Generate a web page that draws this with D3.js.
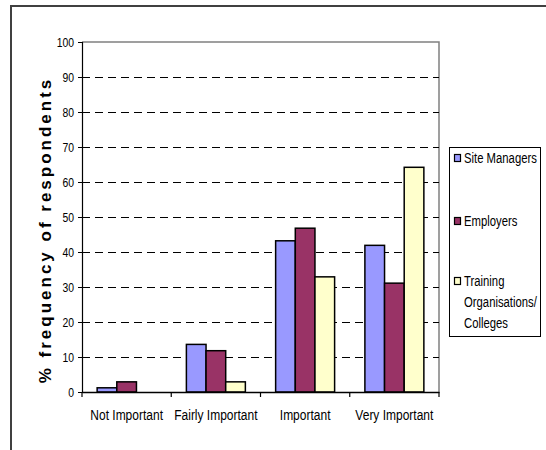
<!DOCTYPE html>
<html>
<head>
<meta charset="utf-8">
<script src="https://cdn.jsdelivr.net/npm/d3@7"></script>
<style>
  html, body { margin: 0; padding: 0; background: #fff; }
  svg { display: block; }
  .narrow { font-family: "Liberation Sans", Arial, sans-serif; }
</style>
</head>
<body>
<svg id="chart" width="546" height="450"></svg>
<script>
// Importance ratings by respondent group
const categories = ["Not Important", "Fairly Important", "Important", "Very Important"];
const seriesNames = ["Site Managers", "Employers", "Training Organisations/ Colleges"];
const siteManagers = [1.2, 13.6, 43.2, 41.9];
const employers = [2.9, 11.8, 46.8, 31.1];
const trainingOrgs = [0, 2.9, 32.9, 64.2];
const seriesColors = ["#9999FF", "#993366", "#FFFFCC"];
const yTicks = [0, 10, 20, 30, 40, 50, 60, 70, 80, 90, 100];
const yTitle = "% frequency of respondents";

const seriesValues = [siteManagers, employers, trainingOrgs];

const svg = d3.select("#chart");

// squeeze a text element horizontally (about its anchor x) to mimic a narrow typeface
function condense(sel, factor) {
  sel.each(function () {
    const t = d3.select(this);
    const x = +t.attr("x") || 0;
    t.attr("transform", `translate(${x},0) scale(${factor},1) translate(${-x},0)`);
  });
}

// outer chart frame (runs off the right and bottom edges)
svg.append("path")
  .attr("d", "M11,460 L11,6 L560,6")
  .attr("fill", "none")
  .attr("stroke", "#404040")
  .attr("stroke-width", 2);

const plot = { left: 82, right: 439, top: 42, bottom: 392 };

const x0 = d3.scaleBand()
  .domain(categories)
  .range([plot.left, plot.right])
  .padding(0);

const x1 = d3.scaleBand()
  .domain(d3.range(seriesNames.length))
  .range([0, x0.bandwidth()])
  .paddingInner(0)
  .paddingOuter(0.77);

const y = d3.scaleLinear()
  .domain([0, 100])
  .range([plot.bottom, plot.top]);

// plot area border (top and right)
svg.append("path")
  .attr("d", `M${plot.left},${plot.top} L${plot.right},${plot.top} L${plot.right},${plot.bottom}`)
  .attr("fill", "none")
  .attr("stroke", "#808080")
  .attr("stroke-width", 1.5);

// dashed gridlines
svg.append("g")
  .selectAll("line")
  .data(yTicks.filter(t => t > 0 && t < 100))
  .join("line")
  .attr("x1", plot.left)
  .attr("x2", plot.right)
  .attr("y1", d => Math.round(y(d)) + 0.5)
  .attr("y2", d => Math.round(y(d)) + 0.5)
  .attr("stroke", "#000")
  .attr("stroke-width", 1)
  .attr("stroke-dasharray", "8,5");

// bars
const groups = svg.append("g")
  .selectAll("g")
  .data(categories)
  .join("g")
  .attr("transform", d => `translate(${x0(d)},0)`);

groups.selectAll("rect")
  .data((c, ci) => seriesValues.map((vals, si) => ({ si, v: vals[ci] })).filter(d => d.v > 0))
  .join("rect")
  .attr("x", d => x1(d.si))
  .attr("width", x1.bandwidth())
  .attr("y", d => y(d.v))
  .attr("height", d => y(0) - y(d.v))
  .attr("fill", d => seriesColors[d.si])
  .attr("stroke", "#000")
  .attr("stroke-width", 1.5);

// y axis
const yAxis = svg.append("g")
  .attr("class", "narrow")
  .attr("transform", `translate(${plot.left},0)`)
  .call(d3.axisLeft(y).tickValues(yTicks).tickSize(4).tickPadding(4));
yAxis.select(".domain").attr("stroke", "#000").attr("stroke-width", 1.2);
yAxis.selectAll(".tick line").attr("stroke", "#000");
yAxis.selectAll(".tick text")
  .attr("font-size", 13)
  .attr("fill", "#000")
  .attr("font-family", null)
  .call(condense, 0.8);

// x axis
const xAxis = svg.append("g")
  .attr("class", "narrow")
  .attr("transform", `translate(0,${plot.bottom})`)
  .call(d3.axisBottom(x0).tickSize(0).tickPadding(17));
xAxis.select(".domain").attr("stroke", "#000").attr("stroke-width", 1.5);
xAxis.selectAll(".tick text")
  .attr("font-size", 15)
  .attr("fill", "#000")
  .attr("font-family", null)
  .call(condense, 0.8);

// x-axis ticks between categories
svg.append("g")
  .selectAll("line")
  .data(categories.map(c => x0(c)).concat([plot.right]))
  .join("line")
  .attr("x1", d => d)
  .attr("x2", d => d)
  .attr("y1", plot.bottom)
  .attr("y2", plot.bottom + 5)
  .attr("stroke", "#000")
  .attr("stroke-width", 1.2);

// y axis title
svg.append("text")
  .attr("transform", `translate(51,${(plot.top + plot.bottom) / 2 + 13}) rotate(-90)`)
  .attr("text-anchor", "middle")
  .attr("font-family", "Liberation Sans, Arial, sans-serif")
  .attr("font-weight", "bold")
  .attr("font-size", 17)
  .attr("letter-spacing", 3)
  .text(yTitle);

// legend
const legend = svg.append("g").attr("class", "narrow");
legend.append("rect")
  .attr("x", 449.5)
  .attr("y", 147.5)
  .attr("width", 91)
  .attr("height", 189)
  .attr("fill", "#fff")
  .attr("stroke", "#000")
  .attr("stroke-width", 1);

const legendLines = [["Site Managers"], ["Employers"], ["Training", "Organisations/", "Colleges"]];
const legendY = [158, 221, 281];

legendLines.forEach((lines, i) => {
  legend.append("rect")
    .attr("x", 454.5)
    .attr("y", legendY[i] - 3.5)
    .attr("width", 6)
    .attr("height", 7)
    .attr("fill", seriesColors[i])
    .attr("stroke", "#000")
    .attr("stroke-width", 1.2);
  lines.forEach((t, j) => {
    legend.append("text")
      .attr("x", 464)
      .attr("y", legendY[i] + j * 21 + 5)
      .attr("font-size", 14.5)
      .attr("fill", "#000")
      .text(t)
      .call(condense, 0.78);
  });
});
</script>
</body>
</html>
